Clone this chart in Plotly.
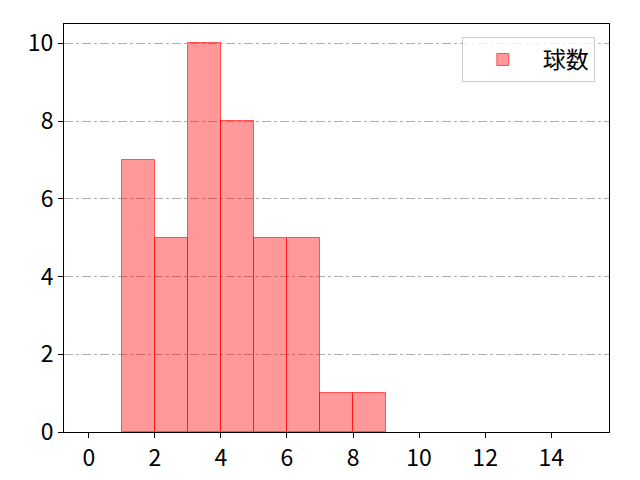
import plotly.graph_objects as go

# histogram bins (left edges) and counts
bin_left = [1, 2, 3, 4, 5, 6, 7, 8]
counts = [7, 5, 10, 8, 5, 5, 1, 1]
series_name = "球数"
x_ticks = [0, 2, 4, 6, 8, 10, 12, 14]
y_ticks = [0, 2, 4, 6, 8, 10]

fig = go.Figure()
fig.add_trace(go.Bar(
    x=bin_left, y=counts, name=series_name,
    width=1, offset=0,
    marker=dict(color="rgba(255,0,0,0.4)", line=dict(color="rgba(255,0,0,0.6)", width=1)),
    showlegend=True,
))

fig.update_layout(
    width=640, height=480,
    margin=dict(l=56, r=39, t=16, b=56),
    plot_bgcolor="white", paper_bgcolor="white",
    font=dict(family="Noto Sans CJK JP", size=23, color="black"),
    bargap=0,
    legend=dict(
        x=0.974, y=0.968, xanchor="right", yanchor="top",
        bordercolor="#cccccc", borderwidth=1, bgcolor="rgba(255,255,255,0.8)",
        font=dict(size=23), itemwidth=70,
    ),
)
fig.update_xaxes(
    range=[-0.75, 15.75], tickvals=x_ticks,
    showgrid=False, zeroline=False,
    showline=True, linecolor="black", linewidth=1, mirror=True,
    ticks="outside", ticklen=5, tickcolor="black",
)
fig.update_yaxes(
    range=[0, 10.5], tickvals=y_ticks,
    showgrid=True, gridcolor="#b0b0b0", griddash="dashdot", gridwidth=1,
    zeroline=False,
    showline=True, linecolor="black", linewidth=1, mirror=True,
    ticks="outside", ticklen=5, tickcolor="black",
)

fig.write_html("out.html")
